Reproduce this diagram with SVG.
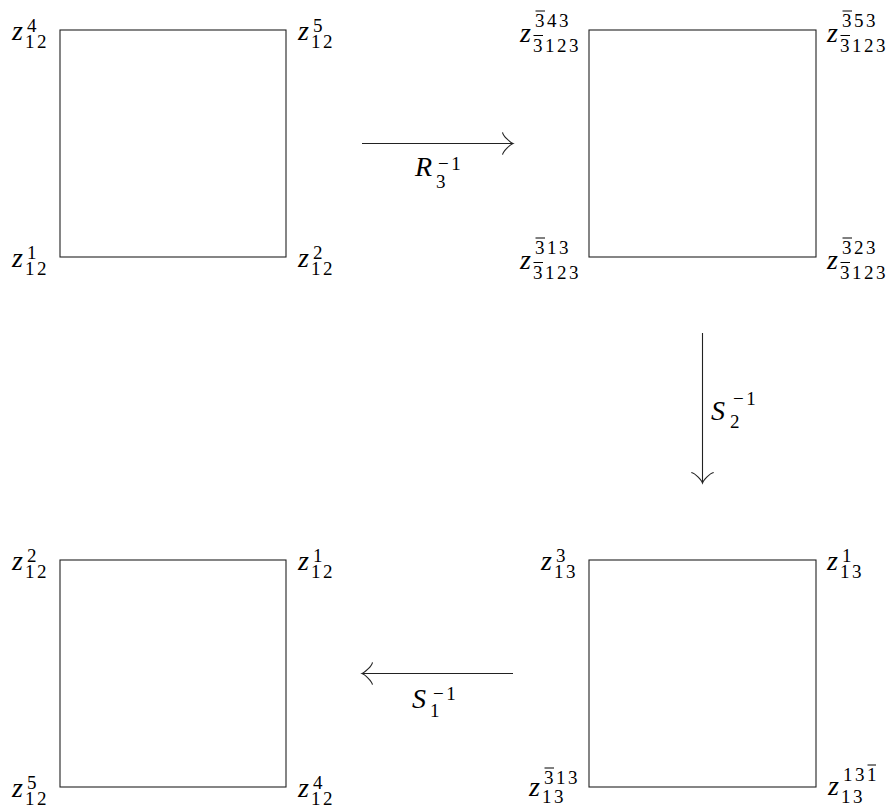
<svg xmlns="http://www.w3.org/2000/svg" width="889" height="810" viewBox="0 0 889 810">
<style>
.box{fill:none;stroke:#222;stroke-width:1.1}
.m{font-style:italic;font-size:28px;fill:#000}
.s{font-style:normal;font-size:19px;letter-spacing:2.5px;fill:#000}
.ln{fill:none;stroke:#222;stroke-width:1.1}
.bar{stroke:#000;stroke-width:1}
</style>
<defs>
<marker id="to" markerUnits="userSpaceOnUse" markerWidth="30" markerHeight="30" viewBox="-15 -15 30 30" refX="0" refY="0" orient="auto" overflow="visible">
<path d="M-10.5,-11.2 C-9.8,-7 -2.1,-0.7 0,0 C-2.1,0.7 -9.8,7 -10.5,11.2" fill="none" stroke="#222" stroke-width="1.1"/>
</marker>
</defs>
<g font-family="Liberation Serif, DejaVu Serif, Noto Serif, Times, serif">
<g id="sq-top-left">
<rect class="box" x="60" y="30" width="226" height="227"/>
<text class="m" x="12" y="39.5">z</text><text class="s" x="27" y="32">4</text><text class="s" x="25" y="48">12</text>
<text class="m" x="298" y="39.5">z</text><text class="s" x="313" y="32">5</text><text class="s" x="311" y="48">12</text>
<text class="m" x="12" y="266.5">z</text><text class="s" x="27" y="259">1</text><text class="s" x="25" y="275">12</text>
<text class="m" x="298" y="266.5">z</text><text class="s" x="313" y="259">2</text><text class="s" x="311" y="275">12</text>
</g>

<g id="sq-top-right">
<rect class="box" x="589" y="30" width="227" height="227"/>
<text class="m" x="520" y="42">z</text><text class="s" x="535" y="27">343</text><text class="s" x="533" y="52">3123</text>
<text class="m" x="827" y="42">z</text><text class="s" x="842" y="27">353</text><text class="s" x="840" y="52">3123</text>
<text class="m" x="520" y="269">z</text><text class="s" x="535" y="254">313</text><text class="s" x="533" y="279">3123</text>
<text class="m" x="827" y="269">z</text><text class="s" x="842" y="254">323</text><text class="s" x="840" y="279">3123</text>
</g>

<g id="sq-bottom-left">
<rect class="box" x="60" y="560" width="226" height="227"/>
<text class="m" x="12" y="569.5">z</text><text class="s" x="27" y="562">2</text><text class="s" x="25" y="578">12</text>
<text class="m" x="298" y="569.5">z</text><text class="s" x="313" y="562">1</text><text class="s" x="311" y="578">12</text>
<text class="m" x="12" y="796.5">z</text><text class="s" x="27" y="789">5</text><text class="s" x="25" y="805">12</text>
<text class="m" x="298" y="796.5">z</text><text class="s" x="313" y="789">4</text><text class="s" x="311" y="805">12</text>
</g>

<g id="sq-bottom-right">
<rect class="box" x="589" y="560" width="227" height="227"/>
<text class="m" x="541" y="569.5">z</text><text class="s" x="556" y="562">3</text><text class="s" x="554" y="578">13</text>
<text class="m" x="827" y="569.5">z</text><text class="s" x="842" y="562">1</text><text class="s" x="840" y="578">13</text>
<text class="m" x="529" y="796">z</text><text class="s" x="544" y="784">313</text><text class="s" x="542" y="803">13</text>
<text class="m" x="828" y="795">z</text><text class="s" x="843" y="781">131</text><text class="s" x="841" y="803">13</text>
</g>

<g id="bars">
<line class="bar" x1="535.5" y1="11" x2="545" y2="11"/>
<line class="bar" x1="533.5" y1="35.5" x2="543" y2="35.5"/>
<line class="bar" x1="842.5" y1="11" x2="852" y2="11"/>
<line class="bar" x1="840.5" y1="35.5" x2="850" y2="35.5"/>
<line class="bar" x1="535.5" y1="238" x2="545" y2="238"/>
<line class="bar" x1="533.5" y1="262.5" x2="543" y2="262.5"/>
<line class="bar" x1="842.5" y1="238" x2="852" y2="238"/>
<line class="bar" x1="840.5" y1="262.5" x2="850" y2="262.5"/>
<line class="bar" x1="544.5" y1="768" x2="554" y2="768"/>
<line class="bar" x1="867.5" y1="765" x2="876" y2="765"/>
</g>

<g id="connectors">
<g id="arrow-R3">
<line class="ln" x1="362" y1="143.5" x2="513" y2="143.5" marker-end="url(#to)"/>
<text class="m" x="415" y="176">R</text><text class="s" x="438" y="170">−1</text><text class="s" x="436" y="188">3</text>
</g>
<g id="arrow-S2">
<line class="ln" x1="702.5" y1="333" x2="702.5" y2="483" marker-end="url(#to)"/>
<text class="m" x="711" y="420">S</text><text class="s" x="733" y="405">−1</text><text class="s" x="730" y="428">2</text>
</g>
<g id="arrow-S1">
<line class="ln" x1="513" y1="673.5" x2="362" y2="673.5" marker-end="url(#to)"/>
<text class="m" x="412" y="708">S</text><text class="s" x="433" y="700">−1</text><text class="s" x="430" y="717">1</text>
</g>
</g>
</g>
</svg>
